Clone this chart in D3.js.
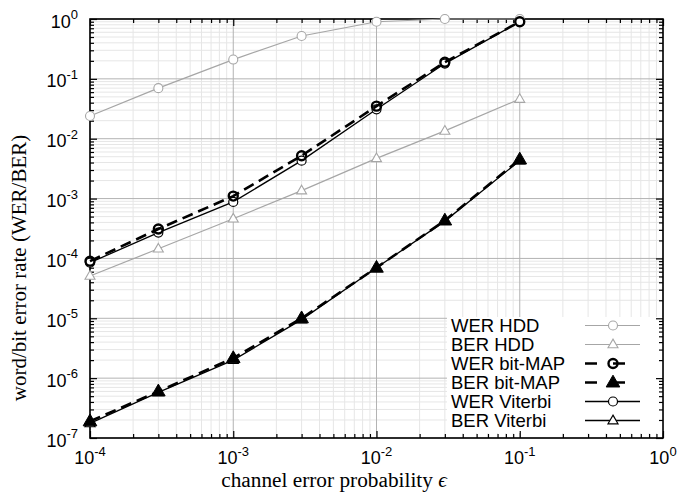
<!DOCTYPE html>
<html><head><meta charset="utf-8">
<script src="https://cdn.jsdelivr.net/npm/d3@7"></script>
<style>body{margin:0;background:#fff}</style>
</head><body>
<svg id="c" width="677" height="494"></svg>
<script>
// ---- data ----
const eps = [1e-4, 3e-4, 1e-3, 3e-3, 1e-2, 3e-2, 1e-1];
const werHDD = [0.024, 0.07, 0.21, 0.52, 0.90, 1.0, 1.0];
const berHDD = [5.1e-5, 1.45e-4, 4.6e-4, 1.36e-3, 4.7e-3, 0.0135, 0.046];
const werMAP = [9.0e-5, 3.1e-4, 1.1e-3, 5.2e-3, 0.035, 0.19, 0.90];
const berMAP = [1.9e-7, 6.0e-7, 2.16e-6, 1.0e-5, 7.0e-5, 4.3e-4, 4.5e-3];
const werVit = [8.5e-5, 2.7e-4, 8.8e-4, 4.3e-3, 0.031, 0.18, 0.90];
const berVit = [1.75e-7, 5.8e-7, 2.0e-6, 9.5e-6, 7.0e-5, 4.2e-4, 4.3e-3];
const seriesNames = ["WER HDD", "BER HDD", "WER bit-MAP", "BER bit-MAP", "WER Viterbi", "BER Viterbi"];
const xTickExps = [-4, -3, -2, -1, 0];
const yTickExps = [0, -1, -2, -3, -4, -5, -6, -7];
const xLabel = "channel error probability ";
const xLabelSym = "\u03F5";
const yLabel = "word/bit error rate (WER/BER)";

// ---- layout / style ----
const L = 90, R = 663, T = 19, B = 438;
const svg = d3.select("#c");
const x = d3.scaleLog().domain([1e-4, 1]).range([L, R]);
const y = d3.scaleLog().domain([1e-7, 1]).range([B, T]);

function minors(exps) {
  const out = [];
  const lo = d3.min(exps), hi = d3.max(exps);
  for (let e = lo; e < hi; e++) for (let k = 2; k <= 9; k++) out.push(k * Math.pow(10, e));
  return out;
}
const xMaj = xTickExps.map(e => Math.pow(10, e));
const yMaj = yTickExps.map(e => Math.pow(10, e));
const xMin = minors(xTickExps), yMin = minors(yTickExps);

// grid
const g = svg.append("g");
g.selectAll(".gxm").data(xMin).join("line").attr("x1", d => x(d)).attr("x2", d => x(d))
  .attr("y1", T).attr("y2", B).attr("stroke", "#e6e6e6").attr("stroke-width", 1);
g.selectAll(".gym").data(yMin).join("line").attr("y1", d => y(d)).attr("y2", d => y(d))
  .attr("x1", L).attr("x2", R).attr("stroke", "#e6e6e6").attr("stroke-width", 1);
g.selectAll(".gxM").data(xMaj).join("line").attr("x1", d => x(d)).attr("x2", d => x(d))
  .attr("y1", T).attr("y2", B).attr("stroke", "#b3b3b3").attr("stroke-width", 1);
g.selectAll(".gyM").data(yMaj).join("line").attr("y1", d => y(d)).attr("y2", d => y(d))
  .attr("x1", L).attr("x2", R).attr("stroke", "#b3b3b3").attr("stroke-width", 1);

// legend box
const legX = 447, legY = 317, legW = R - 447, legH = 116;
svg.append("rect").attr("x", legX).attr("y", legY).attr("width", legW).attr("height", legH).attr("fill", "#fff");

// frame and ticks
function axisG(axis, tx, ty) {
  const a = svg.append("g").attr("transform", `translate(${tx},${ty})`).call(axis);
  a.select(".domain").remove();
  a.selectAll("text").remove();
  a.selectAll("line").attr("stroke", "#000").attr("stroke-width", 1.2);
}
[[xMaj, 7], [xMin, 4]].forEach(([v, s]) => {
  axisG(d3.axisBottom(x).tickValues(v).tickSize(-s), 0, B);
  axisG(d3.axisTop(x).tickValues(v).tickSize(-s), 0, T);
});
[[yMaj, 7], [yMin, 4]].forEach(([v, s]) => {
  axisG(d3.axisLeft(y).tickValues(v).tickSize(-s), L, 0);
  axisG(d3.axisRight(y).tickValues(v).tickSize(-s), R, 0);
});
svg.append("rect").attr("x", L).attr("y", T).attr("width", R - L).attr("height", B - T)
  .attr("fill", "none").attr("stroke", "#000").attr("stroke-width", 1.6);

// tick labels
const tickFont = "'Liberation Sans', Arial, sans-serif";
function pow10(sel, e) {
  sel.append("tspan").text("10");
  sel.append("tspan").attr("dy", -8.5).attr("font-size", 13).text(String(e));
}
xTickExps.forEach(e => {
  const t = svg.append("text").attr("x", x(Math.pow(10, e))).attr("y", 464)
    .attr("text-anchor", "middle").attr("font-family", tickFont).attr("font-size", 18);
  pow10(t, e);
});
yTickExps.forEach(e => {
  const t = svg.append("text").attr("x", 78).attr("y", y(Math.pow(10, e)) + 8.5)
    .attr("text-anchor", "end").attr("font-family", tickFont).attr("font-size", 18);
  pow10(t, e);
});

// axis labels
const serif = "'Liberation Serif', 'Times New Roman', serif";
const xl = svg.append("text").attr("x", 334).attr("y", 487).attr("text-anchor", "middle")
  .attr("font-family", serif).attr("font-size", 21.3);
xl.append("tspan").text(xLabel);
xl.append("tspan").attr("font-style", "italic").text(xLabelSym);
svg.append("text").attr("transform", "translate(26,268) rotate(-90)").attr("text-anchor", "middle")
  .attr("font-family", serif).attr("font-size", 21).text(yLabel);

// series
const gray = "#a6a6a6";
const styles = [
  {data: werHDD, color: gray, w: 1.2, dash: null, mark: "circle", size: 4.5, fill: "#fff", mw: 1.1},
  {data: berHDD, color: gray, w: 1.2, dash: null, mark: "tri", size: 5, fill: "#fff", mw: 1.1},
  {data: werVit, color: "#000", w: 1.3, dash: null, mark: "circle", size: 4.5, fill: "#fff", mw: 1.2},
  {data: berVit, color: "#000", w: 1.3, dash: null, mark: "tri", size: 5, fill: "#fff", mw: 1.2},
  {data: werMAP, color: "#000", w: 2.6, dash: "11,6", mark: "circle", size: 4.5, fill: "none", mw: 2.4, legDash: "12,16"},
  {data: berMAP, color: "#000", w: 2.6, dash: "11,6", mark: "tri", size: 6.8, fill: "#000", mw: 1, legDash: "12,16"}
];
const nameIdx = [0, 1, 4, 5, 2, 3]; // styles index -> legend row
function marker(sel, s, cx, cy) {
  if (s.mark === "circle") {
    sel.append("circle").attr("cx", cx).attr("cy", cy).attr("r", s.size)
      .attr("fill", s.fill).attr("stroke", s.color).attr("stroke-width", s.mw);
  } else {
    const r = s.size;
    const h = r * 1.732;
    sel.append("path").attr("d", `M${cx},${cy - h * 0.62}L${cx + r},${cy + h * 0.38}L${cx - r},${cy + h * 0.38}Z`)
      .attr("fill", s.fill).attr("stroke", s.color).attr("stroke-width", s.mw).attr("stroke-linejoin", "miter");
  }
}
const line = d3.line().x(d => x(d[0])).y(d => y(d[1]));
styles.forEach(s => {
  const pts = eps.map((e, i) => [e, s.data[i]]);
  const gs = svg.append("g");
  gs.append("path").attr("d", line(pts)).attr("fill", "none").attr("stroke", s.color)
    .attr("stroke-width", s.w).attr("stroke-dasharray", s.dash);
  pts.forEach(p => marker(gs, s, x(p[0]), y(p[1])));
});

// legend
const lg = svg.append("g");
styles.forEach((s, i) => {
  const row = nameIdx[i];
  const by = 331.5 + row * 19;
  lg.append("text").attr("x", 451).attr("y", by).attr("font-family", tickFont).attr("font-size", 18.5)
    .text(seriesNames[row]);
  const ly = by - 6;
  lg.append("line").attr("x1", 585).attr("x2", 640).attr("y1", ly).attr("y2", ly)
    .attr("stroke", s.color).attr("stroke-width", s.w).attr("stroke-dasharray", s.legDash || null);
  marker(lg, s, 613, ly);
});
</script>
</body></html>
